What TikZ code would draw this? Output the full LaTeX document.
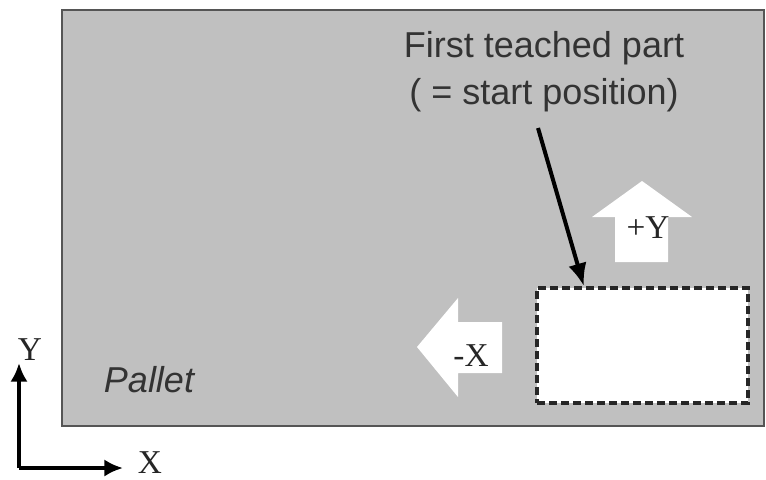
\documentclass[tikz,border=0pt]{standalone}
\usepackage{fontspec}
\setmainfont{Liberation Serif}
\setsansfont{Liberation Sans}
\usetikzlibrary{arrows.meta,calc}
\definecolor{palgray}{RGB}{192,192,192}
\definecolor{palborder}{RGB}{85,85,85}
\tikzset{
  pallet/.style={draw=palborder, line width=1.6pt, fill=palgray, minimum width=526.5pt, minimum height=312pt, inner sep=0pt},
  partbox/.style={draw=black!85, fill=white, dash pattern=on 6pt off 3pt, line width=3pt, minimum width=158.25pt, minimum height=86.25pt, inner sep=0pt},
  bigarrow/.style={fill=white, draw=none},
  sanslabel/.style={font=\sffamily\fontsize{27}{35}\selectfont, text=black!80, align=center, inner sep=0pt},
  seriflabel/.style={font=\fontsize{25}{30}\selectfont, text=black!85, inner sep=0pt},
  callout/.style={line width=3pt, -{Latex[length=17pt,width=14pt]}},
  axis/.style={line width=3pt, -{Latex[length=14pt,width=13pt]}},
}
\begin{document}
\begin{tikzpicture}[x=0.75pt,y=-0.75pt]
\useasboundingbox (0,0) rectangle (766,479);
\fill[white] (0,0) rectangle (766,479);
\node[pallet] (pallet) at (413,218) {};
\node[partbox] (part) at (642.5,345.5) {};
% +Y arrow
\fill[bigarrow] (615,262) -- (615,217) -- (592,217) -- (642,181) -- (692,217) -- (668,217) -- (668,262) -- cycle;
\node[seriflabel] (plusy) at (648,228) {+Y};
% -X arrow
\fill[bigarrow] (502,322) -- (458,322) -- (458,298) -- (417,347) -- (458,397) -- (458,373) -- (502,373) -- cycle;
\node[seriflabel] (minusx) at (471,356) {-X};
% texts
\node[sanslabel] (title) at (544,72) {First teached part\\( = start position)};
\node[sanslabel, font=\sffamily\itshape\fontsize{27}{30}\selectfont] (pal) at (149,380) {Pallet};
\coordinate (calloutstart) at (538,128);
\coordinate (tip) at ($(part.north west)!0.227!(part.north east)$);
\draw[callout] (calloutstart) -- (tip);
% axes
\coordinate (origin) at (19,468);
\coordinate (yend) at (19,363);
\coordinate (xend) at (123,468);
\draw[axis] (origin) -- (yend);
\draw[axis] (origin) -- (xend);
\node[seriflabel] (ylab) at (30,350) {Y};
\node[seriflabel] (xlab) at (150,463) {X};
\end{tikzpicture}
\end{document}
